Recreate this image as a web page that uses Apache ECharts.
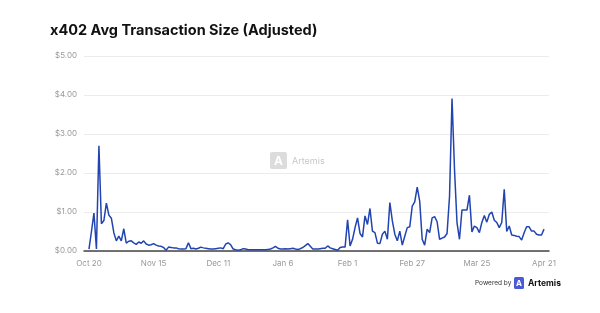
<!DOCTYPE html>
<html>
<head>
<meta charset="utf-8">
<script src="https://cdn.jsdelivr.net/npm/echarts@6/dist/echarts.min.js"></script>
<style>
	html, body { margin: 0; padding: 0; background: #fff; }
	#chart { width: 600px; height: 313px; }
</style>
</head>
<body>
<div id="chart"></div>
<script>
var tickDays = [0, 26, 52, 78, 104, 130, 156, 183];			// day index of each x label
var tickLabels = ['Oct 20', 'Nov 15', 'Dec 11', 'Jan 6', 'Feb 1', 'Feb 27', 'Mar 25', 'Apr 21'];
var yTicks = [0, 1, 2, 3, 4, 5];

// daily avg transaction size, Oct 20 .. Apr 21
var avgSize = [
	0.05, 0.5, 0.97, 0.05, 2.7, 0.7, 0.78, 1.23, 0.92, 0.84,
	0.47, 0.26, 0.38, 0.26, 0.57, 0.2, 0.25, 0.26, 0.21, 0.17,
	0.23, 0.2, 0.26, 0.18, 0.15, 0.16, 0.19, 0.15, 0.13, 0.12,
	0.09, 0.02, 0.1, 0.09, 0.08, 0.08, 0.06, 0.05, 0.05, 0.06,
	0.21, 0.06, 0.07, 0.05, 0.07, 0.1, 0.08, 0.07, 0.06, 0.05,
	0.05, 0.06, 0.07, 0.08, 0.06, 0.18, 0.21, 0.16, 0.05, 0.03,
	0.02, 0.03, 0.06, 0.05, 0.03, 0.03, 0.03, 0.03, 0.03, 0.03,
	0.03, 0.03, 0.04, 0.05, 0.08, 0.12, 0.07, 0.05, 0.05, 0.06,
	0.05, 0.06, 0.07, 0.05, 0.04, 0.06, 0.09, 0.14, 0.19, 0.12,
	0.05, 0.05, 0.05, 0.06, 0.07, 0.07, 0.13, 0.08, 0.06, 0.04,
	0.02, 0.09, 0.1, 0.1, 0.8, 0.13, 0.3, 0.6, 0.85, 0.45,
	0.36, 0.9, 0.68, 1.09, 0.51, 0.47, 0.2, 0.19, 0.43, 0.51,
	0.3, 1.24, 0.77, 0.43, 0.26, 0.51, 0.15, 0.38, 0.6, 0.62,
	1.15, 1.26, 1.64, 1.28, 0.3, 0.15, 0.56, 0.47, 0.85, 0.88,
	0.75, 0.3, 0.33, 0.36, 0.45, 1.4, 3.91, 2.09, 0.73, 0.3,
	1.05, 1.05, 1.05, 1.43, 0.49, 0.64, 0.6, 0.47, 0.73, 0.91,
	0.74, 0.94, 1.0, 0.79, 0.73, 0.6, 0.73, 1.58, 0.5, 0.64,
	0.41, 0.4, 0.38, 0.37, 0.28, 0.47, 0.62, 0.62, 0.51, 0.51,
	0.43, 0.41, 0.41, 0.56
];

var font = 'Inter, "Noto Sans", sans-serif';
var chart = echarts.init(document.getElementById('chart'), null, { renderer: 'canvas' });

chart.setOption({
	animation: false,
	backgroundColor: '#fff',
	title: {
		text: 'x402 Avg Transaction Size (Adjusted)',
		left: 45,
		top: 18,
		textStyle: { fontFamily: font, fontSize: 14.5, fontWeight: 'bold', color: '#111' }
	},
	grid: { left: 84, right: 51, top: 56, bottom: 62 },
	xAxis: {
		type: 'value',
		min: -2,
		max: 185,
		splitLine: { show: false },
		axisTick: { show: false },
		axisLine: { lineStyle: { color: '#444', width: 1.5 } },
		axisLabel: {
			customValues: tickDays,
			margin: 9,
			fontFamily: font,
			fontSize: 8,
			color: '#999',
			formatter: function (v) {
				var k = tickDays.indexOf(v);
				return k >= 0 ? tickLabels[k] : '';
			}
		}
	},
	yAxis: {
		type: 'value',
		min: yTicks[0],
		max: yTicks[yTicks.length - 1],
		interval: 1,
		axisLine: { show: false },
		axisTick: { show: false },
		splitLine: { lineStyle: { color: '#ececec', width: 1 } },
		axisLabel: {
			margin: 7,
			fontFamily: font,
			fontSize: 8,
			color: '#999',
			formatter: function (v) { return '$' + v.toFixed(2); }
		}
	},
	series: [{
		type: 'line',
		data: avgSize.map(function (v, i) { return [i, v]; }),
		showSymbol: false,
		lineStyle: { color: '#2144b0', width: 1.5 },
		z: 3
	}],
	graphic: [
		{	// watermark
			type: 'group',
			left: 270,
			top: 152,
			silent: true,
			children: [
				{ type: 'rect', shape: { x: 0, y: 0, width: 17, height: 17, r: 2 }, style: { fill: '#dcdcdc' } },
				{ type: 'text', x: 8.5, y: 9, style: { text: 'A', fill: '#fff', font: 'bold 12px ' + font, align: 'center', verticalAlign: 'middle' } },
				{ type: 'text', x: 22, y: 9, style: { text: 'Artemis', fill: '#c8c8c8', font: '9px ' + font, verticalAlign: 'middle' } }
			]
		},
		{	// footer
			type: 'group',
			left: 475,
			top: 277,
			children: [
				{ type: 'text', x: 0, y: 7, style: { text: 'Powered by', fill: '#333', font: '6.5px ' + font, verticalAlign: 'middle' } },
				{ type: 'rect', shape: { x: 39, y: 1, width: 10, height: 12, r: 1.5 }, style: { fill: '#4b5bd8' } },
				{ type: 'text', x: 44, y: 7.5, style: { text: 'A', fill: '#fff', font: 'bold 8px ' + font, align: 'center', verticalAlign: 'middle' } },
				{ type: 'text', x: 53, y: 7, style: { text: 'Artemis', fill: '#111', font: 'bold 8.5px ' + font, verticalAlign: 'middle' } }
			]
		}
	]
});
</script>
</body>
</html>
